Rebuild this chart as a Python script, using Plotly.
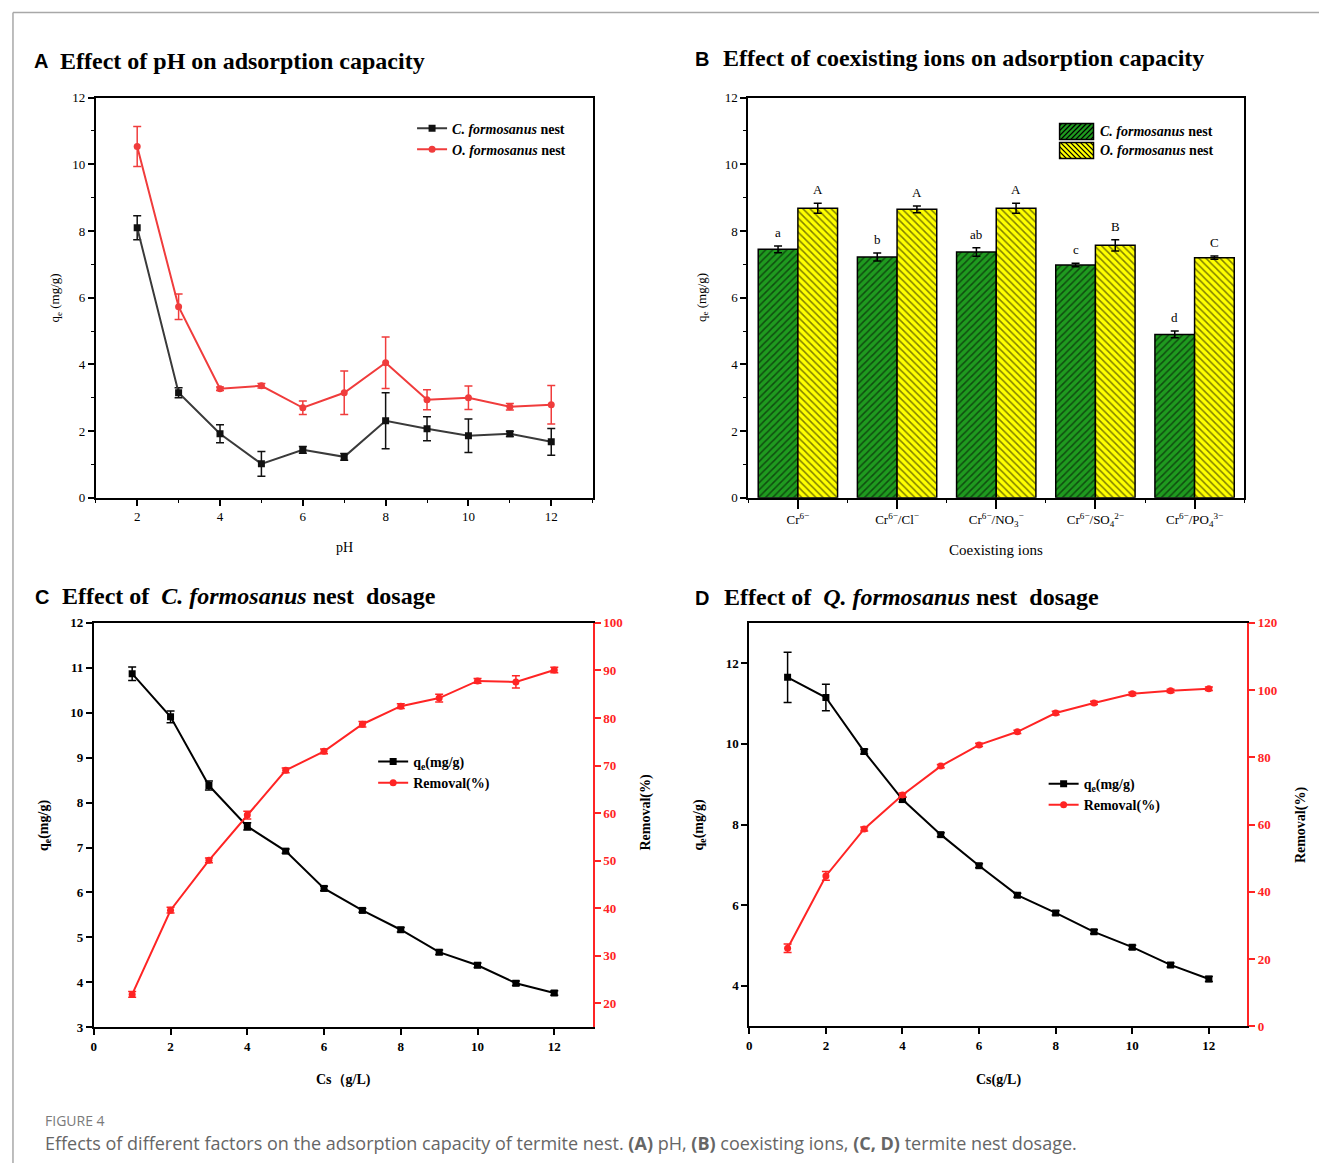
import plotly.graph_objects as go

W, H = 1319, 1171

# ---------------- Data ----------------
ph = [2, 3, 4, 5, 6, 7, 8, 9, 10, 11, 12]
ph_c = [8.10, 3.15, 1.92, 1.02, 1.44, 1.23, 2.31, 2.07, 1.86, 1.92, 1.68]
ph_c_err = [0.36, 0.15, 0.27, 0.37, 0.10, 0.10, 0.84, 0.36, 0.50, 0.08, 0.40]
ph_o = [10.53, 5.73, 3.27, 3.36, 2.70, 3.15, 4.05, 2.94, 3.00, 2.73, 2.79]
ph_o_err = [0.60, 0.38, 0.05, 0.07, 0.20, 0.65, 0.77, 0.30, 0.35, 0.10, 0.58]

ions = ["Cr<sup>6−</sup>", "Cr<sup>6−</sup>/Cl<sup>−</sup>", "Cr<sup>6−</sup>/NO<sub>3</sub><sup>−</sup>",
        "Cr<sup>6−</sup>/SO<sub>4</sub><sup>2−</sup>", "Cr<sup>6−</sup>/PO<sub>4</sub><sup>3−</sup>"]
ion_c = [7.45, 7.22, 7.37, 6.98, 4.90]
ion_c_err = [0.10, 0.12, 0.13, 0.05, 0.10]
ion_o = [8.68, 8.65, 8.68, 7.57, 7.20]
ion_o_err = [0.15, 0.10, 0.15, 0.17, 0.05]
ion_c_letters = ["a", "b", "ab", "c", "d"]
ion_o_letters = ["A", "A", "A", "B", "C"]

dose = [1, 2, 3, 4, 5, 6, 7, 8, 9, 10, 11, 12]
c_qe = [10.87, 9.91, 8.38, 7.47, 6.92, 6.09, 5.60, 5.17, 4.67, 4.38, 3.98, 3.76]
c_qe_err = [0.15, 0.13, 0.10, 0.08, 0.05, 0.05, 0.04, 0.05, 0.05, 0.05, 0.05, 0.05]
c_rem = [21.9, 39.6, 50.1, 59.6, 69.0, 73.0, 78.7, 82.5, 84.2, 87.8, 87.6, 90.1]
c_rem_err = [0.6, 0.6, 0.5, 0.8, 0.5, 0.5, 0.6, 0.5, 0.8, 0.5, 1.3, 0.6]

d_qe = [11.65, 11.15, 9.81, 8.62, 7.75, 6.98, 6.25, 5.81, 5.34, 4.96, 4.52, 4.17]
d_qe_err = [0.62, 0.33, 0.06, 0.06, 0.05, 0.05, 0.05, 0.05, 0.05, 0.05, 0.05, 0.06]
d_rem = [23.2, 44.7, 58.7, 68.8, 77.4, 83.7, 87.6, 93.2, 96.2, 98.9, 99.8, 100.4]
d_rem_err = [1.3, 1.3, 0.6, 0.6, 0.5, 0.5, 0.5, 0.5, 0.5, 0.5, 0.5, 0.5]

# ---------------- Helpers (layout positions given in target-image pixels) ----------------
def px(x):
    return (x - 2) / W

def py(y):
    return 1 - ((y - 6.5) / 0.9865) / H

SERIF = "Liberation Serif"
SANS = "Liberation Sans"
RED_A = "#f03c3c"
RED = "#ff2424"
GREEN = "#1f9a1f"
YELLOW = "#ffff00"
NAME_C = "<b><i>C. formosanus</i> nest</b>"
NAME_O = "<b><i>O. formosanus</i> nest</b>"

fig = go.Figure()

# Panel A
fig.add_trace(go.Scatter(x=ph, y=ph_c, mode="lines+markers", name=NAME_C,
                         line=dict(color="#3a3a3a", width=2), marker=dict(symbol="square", size=7, color="#111"),
                         error_y=dict(type="data", array=ph_c_err, color="#111", thickness=1.5, width=4),
                         xaxis="x", yaxis="y", legend="legend"))
fig.add_trace(go.Scatter(x=ph, y=ph_o, mode="lines+markers", name=NAME_O,
                         line=dict(color=RED_A, width=2), marker=dict(symbol="circle", size=7, color=RED_A),
                         error_y=dict(type="data", array=ph_o_err, color=RED_A, thickness=1.5, width=4),
                         xaxis="x", yaxis="y", legend="legend"))

# Panel B
xi = list(range(len(ions)))
fig.add_trace(go.Bar(x=xi, y=ion_c, name=NAME_C, showlegend=False,
                     marker=dict(color=GREEN, line=dict(color="black", width=1.5),
                                 pattern=dict(shape="/", fgcolor="black", bgcolor=GREEN, size=5, solidity=0.3)),
                     error_y=dict(type="data", array=ion_c_err, color="black", thickness=1.5, width=4),
                     xaxis="x2", yaxis="y2"))
fig.add_trace(go.Bar(x=xi, y=ion_o, name=NAME_O, showlegend=False,
                     marker=dict(color=YELLOW, line=dict(color="black", width=1.5),
                                 pattern=dict(shape="\\", fgcolor="black", bgcolor=YELLOW, size=5, solidity=0.3)),
                     error_y=dict(type="data", array=ion_o_err, color="black", thickness=1.5, width=4),
                     xaxis="x2", yaxis="y2"))

# Panel C
fig.add_trace(go.Scatter(x=dose, y=c_qe, mode="lines+markers", name="<b>q<sub>e</sub>(mg/g)</b>",
                         line=dict(color="black", width=2), marker=dict(symbol="square", size=7, color="black"),
                         error_y=dict(type="data", array=c_qe_err, color="black", thickness=1.5, width=4),
                         xaxis="x3", yaxis="y3", legend="legend3"))
fig.add_trace(go.Scatter(x=dose, y=c_rem, mode="lines+markers", name="<b>Removal(%)</b>",
                         line=dict(color=RED, width=2), marker=dict(symbol="circle", size=7, color=RED),
                         error_y=dict(type="data", array=c_rem_err, color=RED, thickness=1.5, width=4),
                         xaxis="x3", yaxis="y4", legend="legend3"))

# Panel D
fig.add_trace(go.Scatter(x=dose, y=d_qe, mode="lines+markers", name="<b>q<sub>e</sub>(mg/g)</b>",
                         line=dict(color="black", width=2), marker=dict(symbol="square", size=7, color="black"),
                         error_y=dict(type="data", array=d_qe_err, color="black", thickness=1.5, width=4),
                         xaxis="x4", yaxis="y5", legend="legend4"))
fig.add_trace(go.Scatter(x=dose, y=d_rem, mode="lines+markers", name="<b>Removal(%)</b>",
                         line=dict(color=RED, width=2), marker=dict(symbol="circle", size=7, color=RED),
                         error_y=dict(type="data", array=d_rem_err, color=RED, thickness=1.5, width=4),
                         xaxis="x4", yaxis="y6", legend="legend4"))

# ---------------- Axes ----------------
tickfont = dict(family=SERIF, size=13, color="black")
tickfont_b = dict(family=SERIF, size=13, color="black", weight="bold")
tickfont_r = dict(family=SERIF, size=13, color=RED, weight="bold")

def ax(**kw):
    base = dict(showline=True, linecolor="black", linewidth=2, ticks="outside", ticklen=6, tickwidth=1.5,
                tickcolor="black", showgrid=False, zeroline=False, tickfont=tickfont)
    base.update(kw)
    return base

minor_common = dict(ticks="outside", ticklen=3, tickwidth=1.2, tickcolor="black", showgrid=False)

fig.update_layout(
    xaxis=ax(domain=[px(95), px(593)], anchor="y", range=[1, 13], tickvals=[2, 4, 6, 8, 10, 12], mirror=True,
             minor=dict(dtick=1, **minor_common)),
    yaxis=ax(domain=[py(497), py(97)], anchor="x", range=[0, 12], dtick=2, mirror=True,
             minor=dict(dtick=1, **minor_common)),
    xaxis2=ax(domain=[px(749), px(1246)], anchor="y2", range=[-0.5, 4.5], tickvals=xi, ticktext=ions,
              mirror=True, ticklen=9, minor=dict(tickvals=[-0.5, 0.5, 1.5, 2.5, 3.5, 4.5], **minor_common)),
    yaxis2=ax(domain=[py(497), py(97)], anchor="x2", range=[0, 12], dtick=2, mirror=True,
              minor=dict(dtick=1, **minor_common)),
    xaxis3=ax(domain=[px(93), px(593)], anchor="y3", range=[0, 13], tickvals=[0, 2, 4, 6, 8, 10, 12], mirror=True,
              tickfont=tickfont_b),
    yaxis3=ax(domain=[py(1026), py(622)], anchor="x3", range=[3, 12], dtick=1, tickfont=tickfont_b),
    yaxis4=ax(anchor="x3", overlaying="y3", side="right", range=[15, 100], tickvals=[20, 30, 40, 50, 60, 70, 80, 90, 100],
              linecolor=RED, tickcolor=RED, tickfont=tickfont_r),
    xaxis4=ax(domain=[px(750), px(1249)], anchor="y5", range=[0, 13], tickvals=[0, 2, 4, 6, 8, 10, 12], mirror=True,
              tickfont=tickfont_b),
    yaxis5=ax(domain=[py(1025), py(622)], anchor="x4", range=[3, 13], tickvals=[4, 6, 8, 10, 12], tickfont=tickfont_b),
    yaxis6=ax(anchor="x4", overlaying="y5", side="right", range=[0, 120], dtick=20,
              linecolor=RED, tickcolor=RED, tickfont=tickfont_r),
)

# ---------------- Legends ----------------
def leg(x, y, size=14):
    return dict(x=px(x), y=py(y), xanchor="left", yanchor="top", bgcolor="rgba(0,0,0,0)",
                font=dict(family=SERIF, size=size, color="black"), tracegroupgap=0, itemwidth=30,
                borderwidth=0)

fig.update_layout(
    legend=leg(412, 112),
    legend3=leg(373, 745),
    legend4=leg(1045, 767),
    barmode="group", bargap=0.2, bargroupgap=0,
)

# ---------------- Annotations ----------------
ann = []

def text(x, y, t, size=13, family=SERIF, color="black", xanchor="center", yanchor="middle", angle=0, **kw):
    ann.append(dict(x=px(x), y=py(y), xref="paper", yref="paper", text=t, showarrow=False,
                    font=dict(family=family, size=size, color=color, **kw), xanchor=xanchor, yanchor=yanchor,
                    textangle=angle))

# panel titles
text(31, 60, "<b>A</b>", size=20, family=SANS, xanchor="left")
text(57, 60, "<b>Effect of pH on adsorption capacity</b>", size=24, xanchor="left")
text(694, 58, "<b>B</b>", size=20, family=SANS, xanchor="left")
text(722, 57, "<b>Effect of coexisting ions on adsorption capacity</b>", size=24, xanchor="left")
text(32, 596, "<b>C</b>", size=20, family=SANS, xanchor="left")
text(59, 595, "<b>Effect of\u00a0 <i>C. formosanus</i> nest\u00a0 dosage</b>", size=24, xanchor="left")
text(694, 597, "<b>D</b>", size=20, family=SANS, xanchor="left")
text(723, 596, "<b>Effect of\u00a0 <i>Q. formosanus</i> nest\u00a0 dosage</b>", size=24, xanchor="left")

# axis titles
text(344, 547, "pH", size=14)
text(55, 297, "q<sub>e</sub> (mg/g)", size=13, angle=-90)
text(997, 549, "Coexisting ions", size=15)
text(703, 297, "q<sub>e</sub> (mg/g)", size=13, angle=-90)
text(343, 1079, "<b>Cs\uff08g/L)</b>", size=14)
text(43, 824, "<b>q<sub>e</sub>(mg/g)</b>", size=14, angle=-90)
text(647, 811, "<b>Removal(%)</b>", size=14, angle=-90)
text(1000, 1079, "<b>Cs(g/L)</b>", size=14)
text(700, 824, "<b>q<sub>e</sub>(mg/g)</b>", size=14, angle=-90)
text(1303, 824, "<b>Removal(%)</b>", size=14, angle=-90)

# significance letters on bars
for i in xi:
    ann.append(dict(x=i - 0.2, y=ion_c[i] + ion_c_err[i] + 0.12, xref="x2", yref="y2", text=ion_c_letters[i],
                    showarrow=False, yanchor="bottom", font=dict(family=SERIF, size=13, color="black")))
    ann.append(dict(x=i + 0.2, y=ion_o[i] + ion_o_err[i] + 0.12, xref="x2", yref="y2", text=ion_o_letters[i],
                    showarrow=False, yanchor="bottom", font=dict(family=SERIF, size=13, color="black")))

# panel B legend labels (keys drawn as hatched boxes below)
text(1099, 131, NAME_C, size=14, xanchor="left")
text(1099, 150, NAME_O, size=14, xanchor="left")

# caption
text(42, 1119, "FIGURE 4", size=14, family="Open Sans", color="#7a7a7a", xanchor="left")
text(42, 1142, "Effects of different factors on the adsorption capacity of termite nest. <b>(A)</b> pH, "
               "<b>(B)</b> coexisting ions, <b>(C, D)</b> termite nest dosage.",
     size=18, family="Open Sans", color="#666666", xanchor="left")

fig.update_layout(annotations=ann)

# ---------------- Shapes ----------------
shapes = [
    dict(type="line", xref="paper", yref="paper", x0=px(12), y0=py(12), x1=1, y1=py(12),
         line=dict(color="#a8a8a8", width=1.5)),
    dict(type="line", xref="paper", yref="paper", x0=px(12), y0=py(12), x1=px(12), y1=0,
         line=dict(color="#a8a8a8", width=1.5)),
]

def hatch_key(x0, y0, x1, y1, fill, forward, spacing=5):
    out = [dict(type="rect", xref="paper", yref="paper", x0=px(x0), y0=py(y1), x1=px(x1), y1=py(y0),
                fillcolor=fill, line=dict(width=0), layer="above")]
    segs = []
    if forward:  # "/" lines: x + y = c
        c = x0 + y0 + 2
        while c < x1 + y1:
            xa, xb = max(x0, c - y1), min(x1, c - y0)
            if xb > xa:
                segs.append(f"M{px(xa)},{py(c - xa)} L{px(xb)},{py(c - xb)}")
            c += spacing
    else:  # "\" lines: y = x - c
        c = x0 - y1 + 2
        while c < x1 - y0:
            xa, xb = max(x0, c + y0), min(x1, c + y1)
            if xb > xa:
                segs.append(f"M{px(xa)},{py(xa - c)} L{px(xb)},{py(xb - c)}")
            c += spacing
    out.append(dict(type="path", xref="paper", yref="paper", path=" ".join(segs),
                    line=dict(color="black", width=1.3), layer="above"))
    out.append(dict(type="rect", xref="paper", yref="paper", x0=px(x0), y0=py(y1), x1=px(x1), y1=py(y0),
                    fillcolor="rgba(0,0,0,0)", line=dict(color="black", width=1.5), layer="above"))
    return out

shapes += hatch_key(1061, 123, 1095, 139, GREEN, True)
shapes += hatch_key(1061, 142, 1095, 158, YELLOW, False)

fig.update_layout(shapes=shapes)

fig.update_layout(width=W, height=H, margin=dict(l=0, r=0, t=0, b=0),
                  paper_bgcolor="white", plot_bgcolor="white", showlegend=True)

fig.write_html("out.html", config={"displayModeBar": False},
               post_script="document.documentElement.style.margin='0';document.body.style.margin='0';"
                           "document.body.style.padding='0';document.body.style.overflow='hidden';")
